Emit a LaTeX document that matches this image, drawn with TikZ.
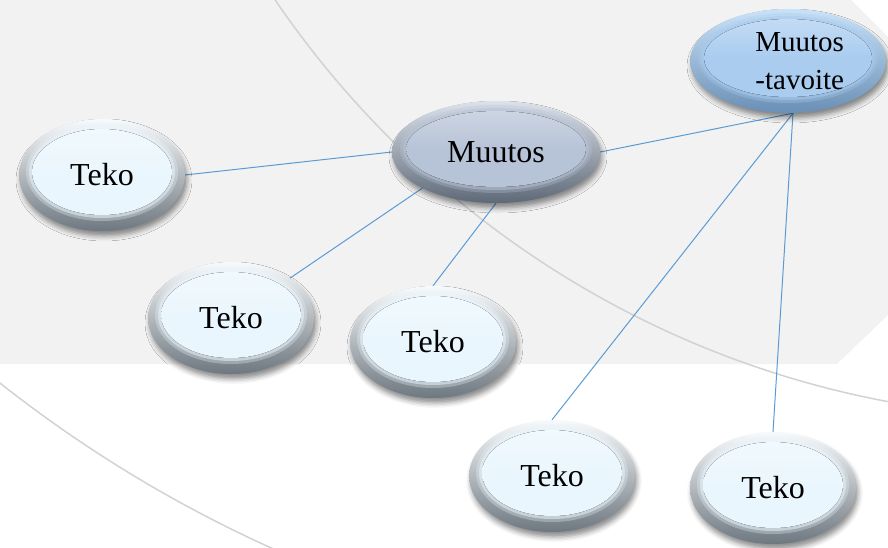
\documentclass[tikz,border=0pt]{standalone}
\usepackage{fontspec}
\setmainfont{Liberation Serif}
\usepackage{tikz}
\usetikzlibrary{shapes.geometric,shadows.blur}

\definecolor{bggray}{HTML}{F2F2F2}
\definecolor{arcgray}{HTML}{D2D2D2}
\definecolor{linkblue}{HTML}{5B9BD5}
\definecolor{tekoin}{HTML}{EAF6FD}
\definecolor{tekotop}{HTML}{F7FAFC}
\definecolor{tekobot}{HTML}{6E7880}
\definecolor{muutin}{HTML}{B7C3D7}
\definecolor{muuttop}{HTML}{DCE2EA}
\definecolor{muutbot}{HTML}{5E6978}
\definecolor{tavin}{HTML}{A9CCEF}
\definecolor{tavtop}{HTML}{C9E2F8}
\definecolor{tavbot}{HTML}{6A8FB5}

\pgfdeclarelayer{back}
\pgfsetlayers{back,main}

\begin{document}
\begin{tikzpicture}[x=1pt,y=-1pt,
  bevel/.style n args={5}{ellipse, inner sep=0pt, top color=#1, bottom color=#2,
    blur shadow={shadow xshift=2pt, shadow yshift=-5pt, shadow blur radius=5pt, shadow opacity=45},
    path picture={
      \fill[#3, opacity=0.3] ([yshift=3pt]path picture bounding box.center) ellipse (#4+6pt and #5+6pt);
      \fill[#3, opacity=0.5] ([yshift=3pt]path picture bounding box.center) ellipse (#4+3pt and #5+3pt);
      \fill[top color=#3!70!white, bottom color=#3, middle color=#3]
        ([yshift=3pt]path picture bounding box.center) ellipse (#4 and #5);}},
  teko/.style={bevel={tekotop}{tekobot}{tekoin}{70pt}{43pt},
    minimum width=166pt, minimum height=112pt, font=\fontsize{32}{36}\selectfont},
  link/.style={linkblue, line width=1pt},
  arcline/.style={arcgray, line width=1.5pt}]
  \useasboundingbox (0,0) rectangle (888,548);

  \node[teko] (teko1) at (102,175) {Teko};
  \node[teko] (teko2) at (231,318) {Teko};
  \node[teko] (teko3) at (433,342) {Teko};
  \node[teko] (teko4) at (552,476) {Teko};
  \node[teko] (teko5) at (773,488) {Teko};
  \node[bevel={muuttop}{muutbot}{muutin}{90pt}{38pt}, minimum width=208pt, minimum height=102pt,
    font=\fontsize{32}{36}\selectfont] (muutos) at (496,152) {Muutos};
  \node[bevel={tavtop}{tavbot}{tavin}{84pt}{39pt}, minimum width=196pt, minimum height=104pt,
    font=\fontsize{29}{38}\selectfont, align=right, text width=112pt] (tavoite) at (788,61) {Muutos\\-tavoite};

  \begin{pgfonlayer}{back}
    \fill[bggray] (0,0) -- (851,0) -- (888,37) -- (888,315) -- (837,364) -- (0,364) -- cycle;
    \begin{scope}
      \clip (0,0) rectangle (888,548);
      \draw[arcline] (1065,-537) circle (955pt);
      \draw[arcline] (808,-643) circle (1306pt);
    \end{scope}
    \draw[link] (teko1.east) -- (muutos.west);
    \draw[link] (muutos.south west) -- (teko2.north east);
    \draw[link] (muutos.south) -- (teko3.north);
    \draw[link] (muutos.east) -- ([xshift=5pt]tavoite.south);
    \draw[link] ([xshift=5pt]tavoite.south) -- (teko4.north);
    \draw[link] ([xshift=5pt]tavoite.south) -- (teko5.north);
  \end{pgfonlayer}
\end{tikzpicture}
\end{document}
